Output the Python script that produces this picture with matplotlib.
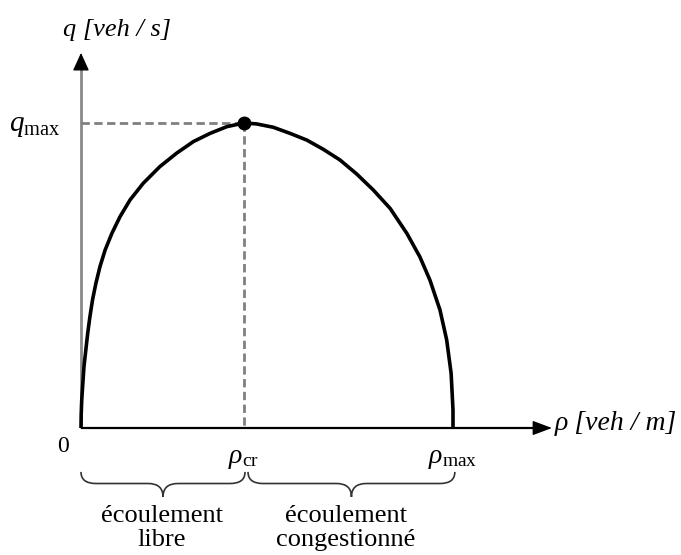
import numpy as np
import matplotlib
matplotlib.use("Agg")
import matplotlib.pyplot as plt
from matplotlib.path import Path
from matplotlib.patches import PathPatch

plt.rcParams['font.family'] = ['Liberation Serif', 'DejaVu Serif']
plt.rcParams['mathtext.fontset'] = 'custom'
plt.rcParams['mathtext.rm'] = 'Liberation Serif'
plt.rcParams['mathtext.it'] = 'Liberation Serif:italic'

# flow-density curve (rho / rho_max, q / q_max)
rho = [0.0, 0.0005, 0.002, 0.005, 0.008, 0.013, 0.018, 0.024, 0.031, 0.040, 0.051,
       0.065, 0.083, 0.105, 0.132, 0.167, 0.212, 0.257, 0.302, 0.347, 0.392, 0.438,
       0.472, 0.517, 0.562, 0.607, 0.651, 0.696, 0.741, 0.786, 0.831, 0.876, 0.911,
       0.938, 0.965, 0.983, 0.995, 1.0, 1.0]
q = [0.0, 0.043, 0.092, 0.147, 0.201, 0.256, 0.310, 0.365, 0.420, 0.474, 0.529,
     0.584, 0.638, 0.693, 0.748, 0.802, 0.857, 0.901, 0.939, 0.966, 0.988, 1.0,
     0.997, 0.986, 0.966, 0.944, 0.914, 0.879, 0.833, 0.780, 0.720, 0.638, 0.561,
     0.485, 0.387, 0.289, 0.179, 0.059, 0.0]

rho_cr = 0.438
rho_max = 1.0
q_max = 1.0
x_axis_end = 1.266
y_axis_end = 1.23

regimes = ["écoulement\nlibre", "écoulement\ncongestionné"]
regime_bounds = [(0.0, 0.441), (0.449, 1.005)]
regime_text_x = [0.217, 0.712]

fig = plt.figure(figsize=(6.81, 5.55), dpi=100)
ax = fig.add_axes([0, 0, 1, 1])
ax.set_xlim(-0.2177, 1.6129)
ax.set_ylim(-0.4164, 1.4033)
ax.axis('off')

# axes
ax.plot([0, 0], [0, y_axis_end - 0.04], color='#8a8a8a', lw=2, solid_capstyle='butt')
ax.plot([0, x_axis_end - 0.04], [0, 0], color='black', lw=1.6, solid_capstyle='butt')
ax.annotate('', xy=(0, y_axis_end), xytext=(0, y_axis_end - 0.05),
            arrowprops=dict(arrowstyle='-|>,head_length=1.1,head_width=0.5',
                            color='black', lw=1, shrinkA=0, shrinkB=0))
ax.annotate('', xy=(x_axis_end, 0), xytext=(x_axis_end - 0.05, 0),
            arrowprops=dict(arrowstyle='-|>,head_length=1.2,head_width=0.45',
                            color='black', lw=1, shrinkA=0, shrinkB=0))

# dashed guides
ax.plot([0, rho_cr], [q_max, q_max], color='#808080', lw=2, dashes=(3, 1.6))
ax.plot([rho_cr, rho_cr], [q_max, 0], color='#808080', lw=2, dashes=(3, 1.6))

# curve and capacity point
ax.plot(rho, q, color='black', lw=2.6, solid_joinstyle='round', solid_capstyle='butt')
ax.plot([rho_cr], [q_max], 'o', color='black', ms=9)

# labels
ax.text(0.097, 1.305, 'q [veh / s]', fontsize=19, style='italic', ha='center', va='center')
ax.text(1.274, 0.015, 'ρ [veh / m]', fontsize=20, style='italic', ha='left', va='center')
ax.text(-0.055, q_max - 0.01, r'$q_{\mathrm{max}}$', fontsize=21, ha='right', va='center')
ax.text(-0.048, -0.062, '0', fontsize=17, ha='center', va='center')
ax.text(rho_cr, -0.1, r'$\rho_{\mathrm{cr}}$', fontsize=20, ha='center', va='center')
ax.text(rho_max, -0.1, r'$\rho_{\mathrm{max}}$', fontsize=20, ha='center', va='center')

# braces under the axis
y_top, y_mid, y_bot = -0.144, -0.182, -0.226
r = 0.04
for (x0, x1), tx, label in zip(regime_bounds, regime_text_x, regimes):
    xm = (x0 + x1) / 2
    verts = [(x0, y_top), (x0, y_mid), (x0 + r, y_mid), (xm - r, y_mid),
             (xm, y_mid), (xm, y_bot), (xm, y_mid), (xm + r, y_mid),
             (x1 - r, y_mid), (x1, y_mid), (x1, y_top)]
    codes = [Path.MOVETO, Path.CURVE3, Path.CURVE3, Path.LINETO,
             Path.CURVE3, Path.CURVE3, Path.CURVE3, Path.CURVE3,
             Path.LINETO, Path.CURVE3, Path.CURVE3]
    ax.add_patch(PathPatch(Path(verts, codes), facecolor='none', edgecolor='#333333', lw=1.2))
    ax.text(tx, -0.328, label, fontsize=19, ha='center', va='center', linespacing=1.1)

fig.savefig('out.png', dpi=100)
